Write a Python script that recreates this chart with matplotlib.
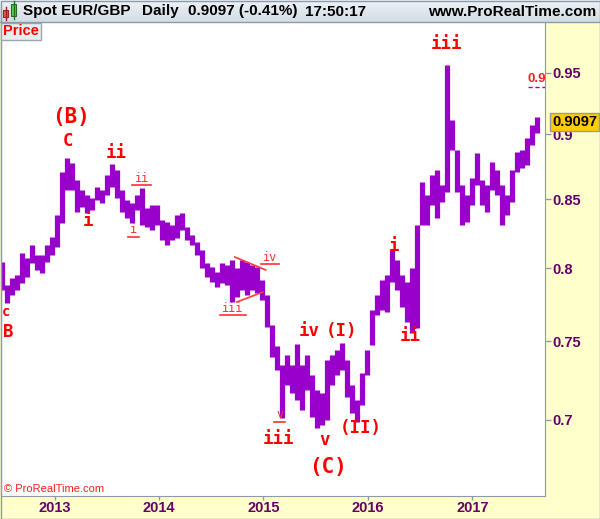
import matplotlib
matplotlib.use('Agg')
import matplotlib.pyplot as plt
import matplotlib.dates as mdates
import matplotlib.ticker as mticker
from matplotlib.patches import Rectangle
from matplotlib.transforms import offset_copy
import numpy as np
import pandas as pd

# high / low of each ~2.5 week block
highs = [0.8043, 0.7882, 0.7930, 0.7951, 0.8107, 0.8071, 0.8164, 0.8093, 0.8093, 0.8164,
         0.8222, 0.8382, 0.8705, 0.8813, 0.8775, 0.8645, 0.8569, 0.8531, 0.8509, 0.8591,
         0.8569, 0.8682, 0.8767, 0.8721, 0.8569, 0.8494, 0.8471, 0.8531, 0.8584, 0.8434,
         0.8456, 0.8456, 0.8346, 0.8331, 0.8309, 0.8382, 0.8397, 0.8294, 0.8236, 0.8186,
         0.8128, 0.8036, 0.8008, 0.7973, 0.8036, 0.8022, 0.8057, 0.8000, 0.8057, 0.8043,
         0.8022, 0.8008, 0.7917, 0.7813, 0.7609, 0.7470, 0.7346, 0.7411, 0.7346, 0.7483,
         0.7346, 0.7411, 0.7282, 0.7187, 0.7168, 0.7379, 0.7411, 0.7444, 0.7490, 0.7379,
         0.7218, 0.7124, 0.7295, 0.7444, 0.7711, 0.7813, 0.7917, 0.7951, 0.8128, 0.8057,
         0.7951, 0.7903, 0.8000, 0.8309, 0.8629, 0.8531, 0.8682, 0.8721, 0.8607, 0.9564,
         0.9113, 0.8876, 0.8607, 0.8531, 0.8660, 0.8852, 0.8645, 0.8607, 0.8782, 0.8721,
         0.8607, 0.8531, 0.8721, 0.8860, 0.8876, 0.8970, 0.9073, 0.9137]
lows = [0.7847, 0.7758, 0.7813, 0.7847, 0.7896, 0.7937, 0.8036, 0.7987, 0.7966, 0.8043,
        0.8093, 0.8150, 0.8324, 0.8569, 0.8569, 0.8404, 0.8441, 0.8397, 0.8419, 0.8494,
        0.8471, 0.8531, 0.8591, 0.8509, 0.8404, 0.8360, 0.8324, 0.8419, 0.8309, 0.8294,
        0.8273, 0.8309, 0.8200, 0.8164, 0.8200, 0.8214, 0.8273, 0.8200, 0.8164, 0.8093,
        0.8000, 0.7937, 0.7903, 0.7868, 0.7896, 0.7882, 0.7765, 0.7799, 0.7847, 0.7813,
        0.7847, 0.7827, 0.7779, 0.7596, 0.7398, 0.7314, 0.7012, 0.7218, 0.7168, 0.7124,
        0.7061, 0.7187, 0.7018, 0.6950, 0.6969, 0.7000, 0.7218, 0.7282, 0.7314, 0.7142,
        0.7043, 0.6987, 0.7092, 0.7282, 0.7477, 0.7677, 0.7711, 0.7697, 0.7903, 0.7847,
        0.7731, 0.7630, 0.7556, 0.7589, 0.8309, 0.8309, 0.8456, 0.8360, 0.8479, 0.8554,
        0.8876, 0.8554, 0.8309, 0.8331, 0.8456, 0.8607, 0.8456, 0.8404, 0.8569, 0.8531,
        0.8309, 0.8382, 0.8479, 0.8705, 0.8736, 0.8759, 0.8915, 0.9009]
dates = pd.date_range('2012-07-01', '2017-08-14', periods=len(highs))

last_price = 0.9097
price_ticks = [0.7, 0.75, 0.8, 0.85, 0.9, 0.95]

# Elliott wave labels: text, date, price, style
waves = [
    ('(B)', '2013-02-27', 0.9137, 'big'),
    ('C', '2013-02-16', 0.8946, 'mid'),
    ('ii', '2013-08-03', 0.8852, 'mid'),
    ('i', '2013-04-27', 0.8338, 'mid'),
    ('ii', '2013-11-01', 0.8659, 'small'),
    ('i', '2013-10-04', 0.8273, 'small'),
    ('c', '2012-07-14', 0.7697, 'tiny'),
    ('B', '2012-07-24', 0.7563, 'mid'),
    ('iv', '2015-01-24', 0.8078, 'small'),
    ('iii', '2014-09-16', 0.7724, 'small'),
    ('v', '2015-02-27', 0.7031, 'small'),
    ('iii', '2015-02-24', 0.6885, 'mid'),
    ('iv', '2015-06-09', 0.7569, 'mid'),
    ('(I)', '2015-10-02', 0.7569, 'mid'),
    ('v', '2015-08-04', 0.6879, 'mid'),
    ('(II)', '2015-12-07', 0.6950, 'mid'),
    ('(C)', '2015-08-14', 0.6717, 'big'),
    ('i', '2016-04-02', 0.8157, 'mid'),
    ('ii', '2016-05-28', 0.7536, 'mid'),
    ('iii', '2016-10-03', 0.9743, 'mid'),
]
# triangle lines (iv of iii)
tri_upper = (['2014-09-23', '2015-01-09'], [0.8078, 0.7987])
tri_lower = (['2014-09-30', '2014-12-30'], [0.7765, 0.7833])
target = 0.9381

W, H = 600, 519
fig = plt.figure(figsize=(W / 100, H / 100), dpi=100, facecolor='#ffffcc')


def px_rect(x0, y0, x1, y1):
    return [x0 / W, 1 - y1 / H, (x1 - x0) / W, (y1 - y0) / H]


ax = fig.add_axes(px_rect(1, 22, 545, 496))
ax.set_facecolor('white')
ax.vlines(dates, lows, highs, color='#9900cc', linewidth=3.75)
ax.set_yscale('log')
ax.set_ylim(0.6547, 0.9933)
ax.set_xlim(pd.Timestamp('2012-06-27'), pd.Timestamp('2017-09-12'))

ax.yaxis.tick_right()
ax.yaxis.set_major_locator(mticker.FixedLocator(price_ticks))
ax.yaxis.set_minor_locator(mticker.NullLocator())
ax.yaxis.set_major_formatter(mticker.FuncFormatter(lambda v, p: ('%.2f' % v).rstrip('0')))
ax.xaxis.set_major_locator(mdates.YearLocator())
ax.xaxis.set_major_formatter(mdates.DateFormatter('%Y'))
ax.tick_params(axis='both', colors='#8e9ba6', labelcolor='#660066', width=1, labelsize=10.5)
ax.tick_params(axis='y', length=4.5, pad=0.8)
ax.tick_params(axis='x', length=3, pad=0.5)
for lab in ax.get_xticklabels() + ax.get_yticklabels():
    lab.set_fontweight('bold')
    lab.set_family('Liberation Sans')
for s in ['left', 'right', 'bottom']:
    ax.spines[s].set_color('#8e9ba6')
ax.spines['top'].set_visible(False)

# wave labels
styles = {
    'big': dict(fontsize=15, fontweight='bold', color='#ff0000'),
    'mid': dict(fontsize=12.5, fontweight='bold', color='#ff0000'),
    'small': dict(fontsize=8.5, color='#ff3030'),
    'tiny': dict(fontsize=10, fontweight='bold', color='#ff0000'),
}
under = offset_copy(ax.transData, fig=fig, x=0, y=-7, units='dots')
for txt, d, p, kind in waves:
    ax.text(pd.Timestamp(d), p, txt, ha='center', va='center', family='DejaVu Sans Mono',
            **styles[kind])
    if kind == 'small':
        half = pd.Timedelta(days=3.5 * (3.6 * len(txt) + 2))
        ax.plot([pd.Timestamp(d) - half, pd.Timestamp(d) + half], [p, p], color='#ff3030',
                lw=1.2, transform=under)

for xs, ys in (tri_upper, tri_lower):
    ax.plot(pd.to_datetime(xs), ys, color='#ff3b3b', lw=1.2)

# target line at top right
ax.plot([pd.Timestamp('2017-07-13'), pd.Timestamp('2017-09-12')], [target, target],
        color='#9900cc', lw=1, ls=(0, (3, 2)))
ax.text(pd.Timestamp('2017-07-13'), 0.9445, '0.9', color='#ff2020', fontsize=9.5,
        fontweight='bold', ha='left', va='center', family='Liberation Sans', clip_on=True)

# last price box on the axis
ax.text(1.0135, last_price, '%.4f' % last_price, transform=ax.get_yaxis_transform(),
        ha='left', va='center', fontsize=10.5, fontweight='bold', family='Liberation Sans',
        color='black', clip_on=False, zorder=5,
        bbox=dict(boxstyle='square,pad=0.13', fc='#ffcc00', ec='#9a9a9a', lw=1))

ax.text(0.006, 0.005, '\u00a9 ProRealTime.com', transform=ax.transAxes, color='#ff2020',
        fontsize=8, family='Liberation Sans', ha='left', va='bottom')

# pixel overlay for chrome
deco = fig.add_axes([0, 0, 1, 1])
deco.axis('off')
deco.patch.set_alpha(0)
grad = np.linspace(0, 1, 22).reshape(-1, 1)
deco.imshow(grad, extent=[0, W, 22, 0], aspect='auto',
            cmap=matplotlib.colors.LinearSegmentedColormap.from_list('bar', ['#edf2f6', '#d3dde5']))
deco.set_xlim(0, W)
deco.set_ylim(H, 0)
deco.plot([0, W], [22, 22], color='#8e9ba6', lw=1)
deco.add_patch(Rectangle((0.5, 0.5), W - 1, H - 1, fill=False, ec='#8e9ba6', lw=1))

# candle icon
deco.plot([5.5, 5.5], [7, 20], color='#a02020', lw=1)
deco.add_patch(Rectangle((3, 10), 5, 7, fc='#e06060', ec='#a02020', lw=0.8))
deco.plot([13.5, 13.5], [1, 19], color='#207020', lw=1)
deco.add_patch(Rectangle((11, 4), 5, 12, fc='#50d050', ec='#207020', lw=0.8))

title_kw = dict(fontsize=11, fontweight='bold', family='Liberation Sans', color='black',
                va='center')
deco.text(23, 11.5, 'Spot EUR/GBP', **title_kw)
deco.text(142, 11.5, 'Daily', **title_kw)
deco.text(188, 11.5, '0.9097 (-0.41%)', **title_kw)
deco.text(305, 11.5, '17:50:17', **title_kw)
deco.text(596, 11.5, 'www.ProRealTime.com', ha='right', **title_kw)

deco.text(21, 31, 'Price', ha='center', va='center', fontsize=10.5, fontweight='bold',
          family='Liberation Sans', color='#ff0000')
deco.add_patch(Rectangle((1, 22.5), 40, 17, fc='#e9ecef', ec='#9aa5ae', lw=1, zorder=1))

fig.savefig('out.png', dpi=100, facecolor=fig.get_facecolor())
